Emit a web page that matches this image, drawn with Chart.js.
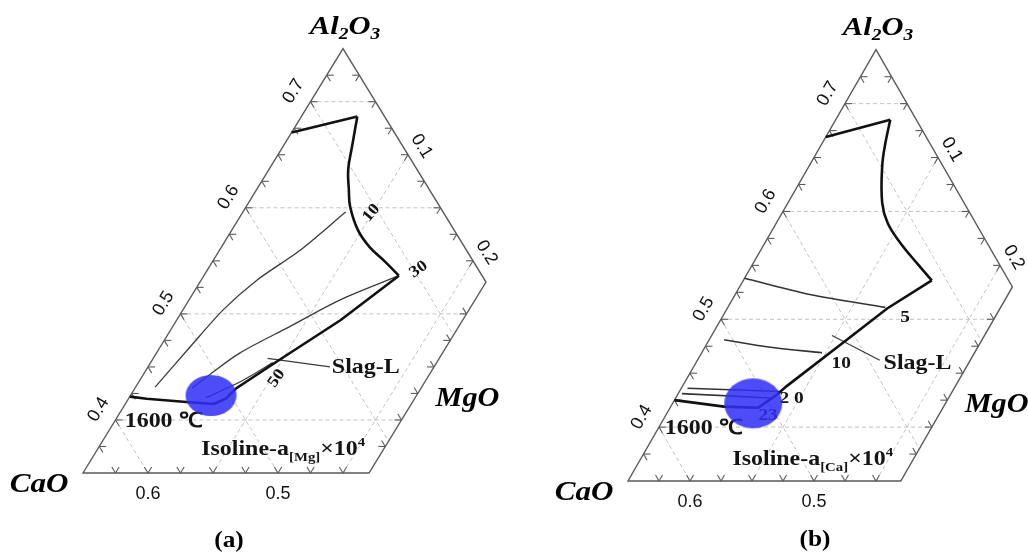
<!DOCTYPE html>
<html>
<head>
<meta charset="utf-8">
<script src="https://cdn.jsdelivr.net/npm/chart.js@4.4.1/dist/chart.umd.min.js"></script>
<style>
  html, body { margin: 0; padding: 0; background: #fff; }
  #wrap { position: relative; width: 1028px; height: 554px; }
  .panel { position: absolute; top: 0; width: 514px; height: 554px; }
</style>
</head>
<body>
<div id="wrap">
  <div class="panel" style="left:0"><canvas id="chartA" width="514" height="554"></canvas></div>
  <div class="panel" style="left:514px"><canvas id="chartB" width="514" height="554"></canvas></div>
</div>
<script>
// every point is [Al2O3, MgO] as mole fraction, CaO is the balance

// plotted part of the CaO-Al2O3-MgO triangle
const AL_MIN = 0.35, AL_MAX = 0.75, MG_MAX = 0.22, CA_MIN = 0.25;
const gridAl = [0.4, 0.5, 0.6, 0.7];
const gridMg = [0.1, 0.2];
const gridCa = [0.3, 0.4, 0.5, 0.6];
const bottomCa = [0.6, 0.5];

// (a) a[Mg]
const boundaryA1 = [[0.671, 0], [0.686, 0.043]];
const boundaryA2 = [[0.686, 0.043], [0.658, 0.053], [0.636, 0.061], [0.617, 0.071], [0.601, 0.080],
  [0.579, 0.097], [0.563, 0.114], [0.549, 0.133], [0.536, 0.150]];
const boundaryA3 = [[0.536, 0.150], [0.494, 0.126], [0.457, 0.098], [0.430, 0.078], [0.420, 0.075],
  [0.415, 0.068], [0.417, 0.046], [0.420, 0.014], [0.422, 0]];
const isoA10 = [[0.596, 0.079], [0.560, 0.062], [0.532, 0.043], [0.504, 0.031], [0.469, 0.023], [0.431, 0.015]];
const isoA30 = [[0.536, 0.150], [0.513, 0.116], [0.488, 0.090], [0.463, 0.064], [0.441, 0.050], [0.430, 0.044]];
const isoA50 = [[0.421, 0.059], [0.436, 0.078], [0.454, 0.094]];
const leaderA = [[0.458, 0.088], [0.450, 0.140]];
const spotA = [0.423, 0.062];

// (b) a[Ca]
const boundaryB1 = [[0.669, 0], [0.685, 0.044]];
const boundaryB2 = [[0.685, 0.044], [0.663, 0.051], [0.642, 0.059], [0.608, 0.076], [0.589, 0.090],
  [0.571, 0.109], [0.552, 0.132], [0.536, 0.152]];
const boundaryB3 = [[0.536, 0.152], [0.510, 0.129], [0.481, 0.111], [0.438, 0.084], [0.430, 0.080],
  [0.418, 0.071], [0.419, 0.043], [0.425, 0]];
const isoB5 = [[0.538, 0], [0.523, 0.060], [0.511, 0.127]];
const isoB10 = [[0.481, 0.012], [0.474, 0.053], [0.469, 0.097]];
const isoB20 = [[0.436, 0.005], [0.433, 0.081]];
const isoB23 = [[0.431, 0.003], [0.427, 0.077]];
const leaderB = [[0.485, 0.097], [0.462, 0.147]];
const spotB = [0.422, 0.065];

const SERIF = '"Liberation Serif", "Times New Roman", serif';
const SANS = '"Liberation Sans", Arial, sans-serif';
const SQ3 = Math.sqrt(3) / 2;

function toXY(al, mg) { return { x: mg + al / 2, y: al * SQ3 }; }
const pts = arr => arr.map(([al, mg]) => toXY(al, mg));

function isolineParts(sub) {
  return [{ t: 'Isoline-a', size: 21 }, { t: sub, size: 13, dy: 6 }, { t: '×10', size: 21 }, { t: '4', size: 13, dy: -9 }];
}

const labelsA = [
  { parts: [{ t: '10', size: 16 }], at: [0.596, 0.098], rot: -50 },
  { parts: [{ t: '30', size: 16 }], at: [0.543, 0.161], rot: -35 },
  { parts: [{ t: '50', size: 16 }], at: [0.440, 0.103], rot: -55 },
  { parts: [{ t: 'Slag-L', size: 21 }], at: [0.451, 0.167] },
  { parts: [{ t: '1600 ℃', size: 21 }], at: [0.400, 0.037] },
  { parts: isolineParts('[Mg]'), at: [0.374, 0.142] }
];
const labelsB = [
  { parts: [{ t: '5', size: 17 }], at: [0.503, 0.147] },
  { parts: [{ t: '10', size: 17 }], at: [0.460, 0.117] },
  { parts: [{ t: '2 0', size: 17 }], at: [0.428, 0.093] },
  { parts: [{ t: '23', size: 17 }], at: [0.412, 0.082] },
  { parts: [{ t: 'Slag-L', size: 21 }], at: [0.461, 0.178] },
  { parts: [{ t: '1600 ℃', size: 21 }], at: [0.400, 0.036] },
  { parts: isolineParts('[Ca]'), at: [0.372, 0.138] }
];

// text in the figure is a little wider than the plain serif face
function drawRich(ctx, parts, x, y, font, stretch) {
  const sx = stretch || 1.14;
  let w = 0;
  parts.forEach(p => { ctx.font = font + ' ' + p.size + 'px ' + SERIF; p.w = ctx.measureText(p.t).width; w += p.w; });
  ctx.save();
  ctx.translate(x, y);
  ctx.scale(sx, 1);
  let cx = -w / 2;
  ctx.textAlign = 'left';
  ctx.textBaseline = 'alphabetic';
  parts.forEach(p => {
    ctx.font = font + ' ' + p.size + 'px ' + SERIF;
    ctx.fillText(p.t, cx, p.dy || 0);
    cx += p.w;
  });
  ctx.restore();
}

const ternaryFrame = {
  id: 'ternaryFrame',
  beforeDatasetsDraw(chart, args, cfg) {
    const ctx = chart.ctx;
    const P = (al, mg) => {
      const p = toXY(al, mg);
      return [chart.scales.x.getPixelForValue(p.x), chart.scales.y.getPixelForValue(p.y)];
    };
    const seg = (a, b) => { ctx.beginPath(); ctx.moveTo(a[0], a[1]); ctx.lineTo(b[0], b[1]); ctx.stroke(); };
    const apex = P(AL_MAX, 0), right = P(1 - CA_MIN - MG_MAX, MG_MAX);
    const lowRight = P(AL_MIN, MG_MAX), lowLeft = P(AL_MIN, 0);
    ctx.save();

    // dashed grid
    ctx.strokeStyle = '#c2c2c2';
    ctx.lineWidth = 1;
    ctx.setLineDash([4, 3]);
    gridAl.forEach(al => seg(P(al, 0), P(al, Math.min(MG_MAX, 1 - CA_MIN - al))));
    gridMg.forEach(mg => seg(P(1 - CA_MIN - mg, mg), P(AL_MIN, mg)));
    gridCa.forEach(ca => {
      const mg = Math.min(MG_MAX, 1 - ca - AL_MIN);
      seg(P(1 - ca, 0), P(1 - ca - mg, mg));
    });
    ctx.setLineDash([]);

    // outline
    ctx.strokeStyle = '#5a5a5a';
    ctx.lineWidth = 1.4;
    ctx.beginPath();
    [apex, right, lowRight, lowLeft].forEach((p, i) => i ? ctx.lineTo(p[0], p[1]) : ctx.moveTo(p[0], p[1]));
    ctx.closePath();
    ctx.stroke();

    // ticks, two short strokes along the grid directions
    ctx.lineWidth = 1.1;
    const tick = (al, mg, dirs) => {
      const a = P(al, mg);
      dirs.forEach(([dAl, dMg]) => {
        const b = P(al + dAl * 0.01, mg + dMg * 0.01);
        const dx = b[0] - a[0], dy = b[1] - a[1], n = Math.hypot(dx, dy);
        seg(a, [a[0] + dx / n * 7, a[1] + dy / n * 7]);
      });
    };
    for (let k = 1; k <= 15; k++) tick(AL_MIN + k * 0.025, 0, [[0, 1], [-1, 1]]);
    for (let k = 1; k <= 8; k++) tick(1 - CA_MIN - k * 0.025, k * 0.025, [[-1, 0], [0, -1]]);
    for (let k = 1; k <= 8; k++) tick(AL_MIN, k * 0.025, [[1, -1], [1, 0]]);
    for (let k = 1; k <= 6; k++) tick(AL_MIN + k * 0.025, MG_MAX, [[0, -1], [1, -1]]);

    // tick labels
    ctx.fillStyle = '#111';
    ctx.font = '18px ' + SANS;
    ctx.textAlign = 'center';
    ctx.textBaseline = 'middle';
    const edgeLabel = (p, from, to, gap, text) => {
      const dx = to[0] - from[0], dy = to[1] - from[1], n = Math.hypot(dx, dy);
      const ux = dx / n, uy = dy / n;
      ctx.save();
      ctx.translate(p[0] + uy * gap, p[1] - ux * gap);
      ctx.rotate(Math.atan2(uy, ux));
      ctx.fillText(text, 0, 0);
      ctx.restore();
    };
    gridAl.forEach(al => edgeLabel(P(al, 0), lowLeft, apex, 20, al.toFixed(1)));
    gridMg.forEach(mg => edgeLabel(P(1 - CA_MIN - mg, mg), apex, right, 16, mg.toFixed(1)));
    bottomCa.forEach(ca => {
      const p = P(AL_MIN, 1 - ca - AL_MIN);
      ctx.fillText(ca.toFixed(1), p[0], p[1] + 21);
    });

    // component names
    ctx.fillStyle = '#000';
    drawRich(ctx, [{ t: 'Al', size: 25 }, { t: '2', size: 16, dy: 5 }, { t: 'O', size: 25 }, { t: '3', size: 16, dy: 5 }],
      apex[0] + 2, apex[1] - 15, 'italic bold', 1.22);
    drawRich(ctx, [{ t: 'CaO', size: 27 }], lowLeft[0] - 44, lowLeft[1] + 19, 'italic bold', 1.15);
    drawRich(ctx, [{ t: 'MgO', size: 27 }], (right[0] + lowRight[0]) / 2 + 40, (right[1] + lowRight[1]) / 2 + 28, 'italic bold', 1.12);

    // annotations
    ctx.fillStyle = '#141414';
    cfg.labels.forEach(l => {
      const p = P(l.at[0], l.at[1]);
      ctx.save();
      ctx.translate(p[0], p[1]);
      ctx.rotate((l.rot || 0) * Math.PI / 180);
      drawRich(ctx, l.parts, 0, l.parts[0].size * 0.35, 'bold');
      ctx.restore();
    });

    ctx.fillStyle = '#000';
    drawRich(ctx, [{ t: cfg.caption.text, size: 23 }], cfg.caption.x, cfg.caption.y + 8, 'bold', 1.1);
    ctx.restore();
  }
};

function spot(rx, ry) {
  const c = document.createElement('canvas');
  c.width = Math.ceil(rx * 2 + 2);
  c.height = Math.ceil(ry * 2 + 2);
  const g = c.getContext('2d');
  g.fillStyle = 'rgba(48, 48, 246, 0.86)';
  g.beginPath();
  g.ellipse(c.width / 2, c.height / 2, rx, ry, 0, 0, Math.PI * 2);
  g.fill();
  return c;
}

function line(data, width, color, tension) {
  return { data: pts(data), showLine: true, borderColor: color, borderWidth: width,
    pointRadius: 0, tension: tension || 0, order: 2 };
}

function makeChart(id, datasets, view, labels, caption) {
  return new Chart(document.getElementById(id), {
    type: 'scatter',
    data: { datasets },
    options: {
      responsive: false,
      animation: false,
      events: [],
      layout: { padding: 0, autoPadding: false },
      scales: {
        x: { type: 'linear', display: false, min: view[0], max: view[1] },
        y: { type: 'linear', display: false, min: view[2], max: view[3] }
      },
      plugins: {
        legend: { display: false },
        tooltip: { enabled: false },
        ternaryFrame: { labels, caption }
      }
    },
    plugins: [ternaryFrame]
  });
}

makeChart('chartA', [
  line(boundaryA1, 2.6, '#111'),
  line(boundaryA2, 2.6, '#111', 0.4),
  line(boundaryA3, 2.6, '#111'),
  line(isoA10, 1.3, '#3a3a3a', 0.3),
  line(isoA30, 1.3, '#3a3a3a', 0.3),
  line(isoA50, 1.3, '#3a3a3a', 0.3),
  line(leaderA, 1.2, '#3a3a3a'),
  { data: pts([spotA]), pointStyle: spot(25.5, 20.5), pointRadius: 10, order: 0 }
], [0.11115, 0.50654, 0.23699, 0.68924], labelsA, { text: '(a)', x: 229, y: 539 });

makeChart('chartB', [
  line(boundaryB1, 2.6, '#111'),
  line(boundaryB2, 2.6, '#111', 0.4),
  line(boundaryB3, 2.6, '#111'),
  line(isoB5, 1.6, '#333', 0.3),
  line(isoB10, 1.6, '#333', 0.3),
  line(isoB20, 1.6, '#333'),
  line(isoB23, 1.6, '#333'),
  line(leaderB, 1.2, '#3a3a3a'),
  { data: pts([spotB]), pointStyle: spot(29, 25), pointRadius: 10, order: 0 }
], [0.08306, 0.49758, 0.24448, 0.68945], labelsB, { text: '(b)', x: 301, y: 538 });
</script>
</body>
</html>
